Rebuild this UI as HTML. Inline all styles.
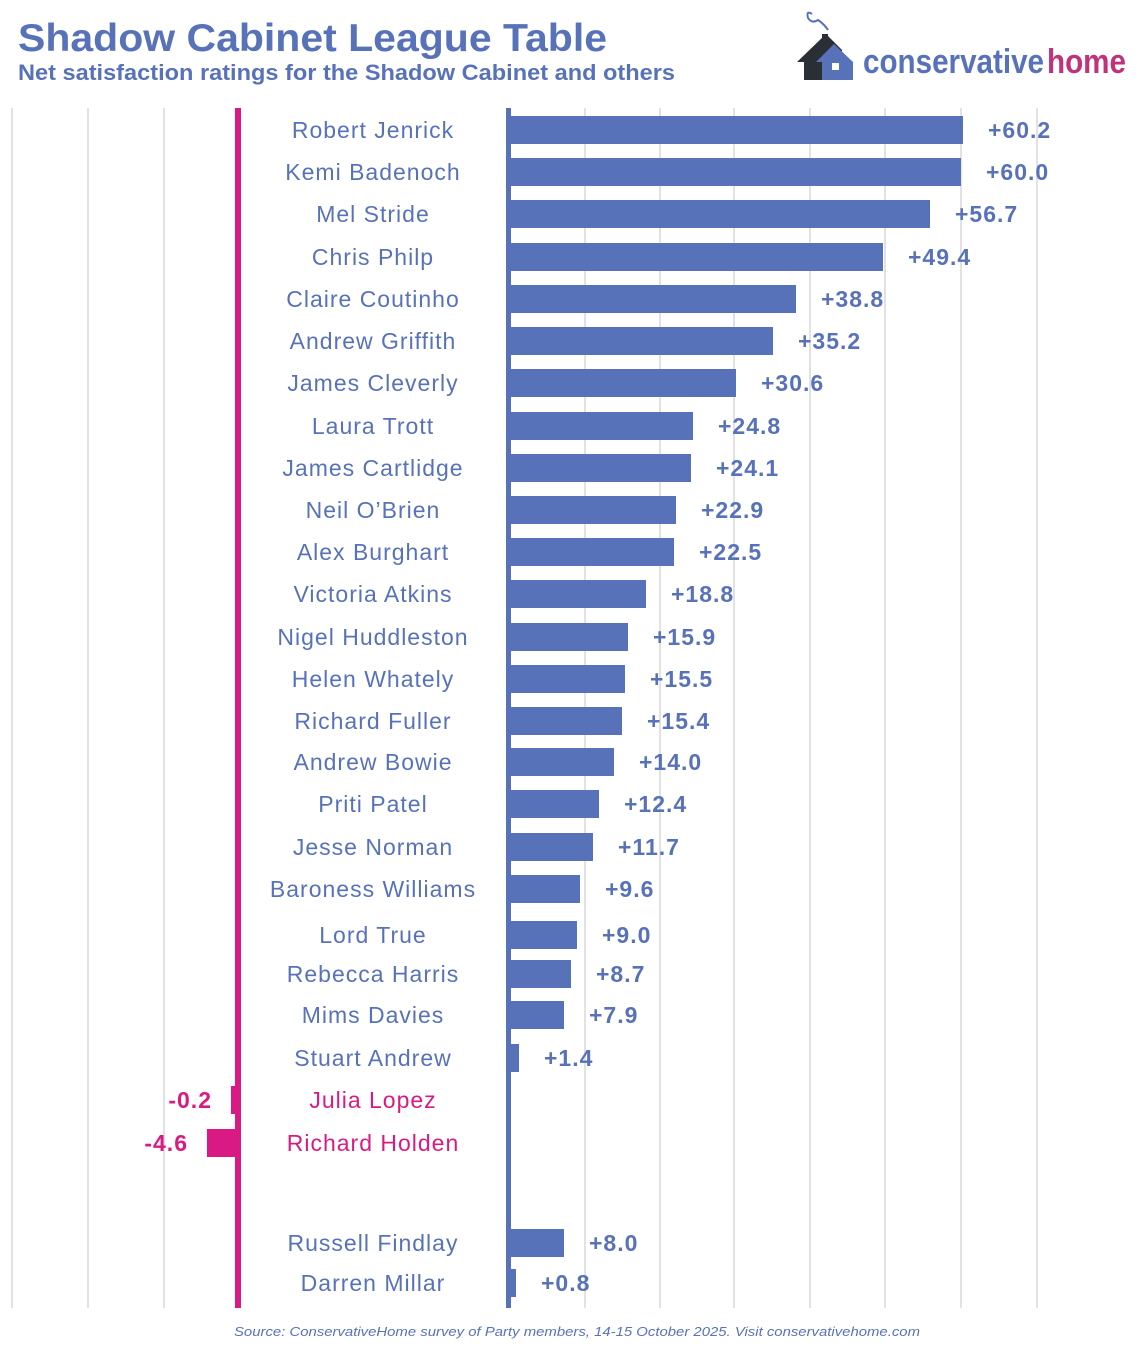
<!DOCTYPE html>
<html><head><meta charset="utf-8"><style>
body{margin:0;background:#fff}
svg text{font-family:"Liberation Sans",sans-serif}
</style></head><body>
<svg width="1139" height="1344" viewBox="0 0 1139 1344" xmlns="http://www.w3.org/2000/svg">
<rect width="1139" height="1344" fill="#fff"/>
<text x="18" y="51" font-size="39" font-weight="bold" fill="#5872BA" textLength="589" lengthAdjust="spacingAndGlyphs">Shadow Cabinet League Table</text>
<text x="18" y="80" font-size="22" font-weight="bold" fill="#5872BA" textLength="657" lengthAdjust="spacingAndGlyphs">Net satisfaction ratings for the Shadow Cabinet and others</text>
<g>
<path d="M812 14 q-6 -4 -4 4 q4 6 10 2 q6 4 10 10" fill="none" stroke="#5872BA" stroke-width="2"/>
<polygon points="797,62 826,34 842,50 842,80 804,80 804,62" fill="#2a2f36"/>
<rect x="822" y="34" width="6" height="8" fill="#2a2f36"/>
<polygon points="816,62 834,44 853,62 853,80 822,80 822,62" fill="#5872BA"/>
<rect x="832" y="63" width="7" height="7" fill="#fff"/>
<text x="863" y="73" font-size="34" font-weight="bold" fill="#5872BA" textLength="181" lengthAdjust="spacingAndGlyphs">conservative</text>
<text x="1047" y="73" font-size="34" font-weight="bold" fill="#C0327A" textLength="79" lengthAdjust="spacingAndGlyphs">home</text>
</g>
<g stroke="#e2e2e2" stroke-width="2">
<line x1="12" y1="108" x2="12" y2="1308"/><line x1="88" y1="108" x2="88" y2="1308"/><line x1="164" y1="108" x2="164" y2="1308"/>
<line x1="585" y1="108" x2="585" y2="1308"/><line x1="660" y1="108" x2="660" y2="1308"/><line x1="734" y1="108" x2="734" y2="1308"/>
<line x1="810" y1="108" x2="810" y2="1308"/><line x1="885" y1="108" x2="885" y2="1308"/><line x1="961" y1="108" x2="961" y2="1308"/><line x1="1037" y1="108" x2="1037" y2="1308"/>
</g>
<rect x="235" y="108" width="6" height="1200" fill="#DA1A84"/>
<rect x="506" y="108" width="5" height="1200" fill="#5872BA"/>
<text x="234" y="1336" font-size="13" font-style="italic" fill="#5872BA" textLength="686" lengthAdjust="spacingAndGlyphs">Source: ConservativeHome survey of Party members, 14-15 October 2025. Visit conservativehome.com</text>
</svg>
<script>
var d=[["Robert Jenrick","+60.2",130,963],["Kemi Badenoch","+60.0",172,961],["Mel Stride","+56.7",214,930],["Chris Philp","+49.4",257,883],["Claire Coutinho","+38.8",299,796],["Andrew Griffith","+35.2",341,773],["James Cleverly","+30.6",383,736],["Laura Trott","+24.8",426,693],["James Cartlidge","+24.1",468,691],["Neil O’Brien","+22.9",510,676],["Alex Burghart","+22.5",552,674],["Victoria Atkins","+18.8",594,646],["Nigel Huddleston","+15.9",637,628],["Helen Whately","+15.5",679,625],["Richard Fuller","+15.4",721,622],["Andrew Bowie","+14.0",762,614],["Priti Patel","+12.4",804,599],["Jesse Norman","+11.7",847,593],["Baroness Williams","+9.6",889,580],["Lord True","+9.0",935,577],["Rebecca Harris","+8.7",974,571],["Mims Davies","+7.9",1015,564],["Stuart Andrew","+1.4",1058,519],["Russell Findlay","+8.0",1243,564],["Darren Millar","+0.8",1283,516]];
var ns="http://www.w3.org/2000/svg",svg=document.querySelector("svg");
function el(t,a,txt){var e=document.createElementNS(ns,t);for(var k in a)e.setAttribute(k,a[k]);if(txt)e.textContent=txt;svg.appendChild(e);return e;}
d.forEach(function(r){var y=r[2],e=r[3];
el("rect",{x:506,y:y-14,width:e-506,height:28,fill:"#5872BA"});
el("text",{x:e+25,y:y+8,"font-size":23,"font-weight":"bold",fill:"#5872BA","letter-spacing":"1"},r[1]);
el("text",{x:373,y:y+8,"font-size":23,"text-anchor":"middle",fill:"#5872BA","letter-spacing":"1"},r[0]);
});
[["Julia Lopez","-0.2",1100,231],["Richard Holden","-4.6",1143,207]].forEach(function(r){var y=r[2];
el("rect",{x:r[3],y:y-14,width:238-r[3],height:28,fill:"#DA1A84"});
el("text",{x:r[3]-19,y:y+8,"font-size":23,"font-weight":"bold",fill:"#DA1A84","text-anchor":"end","letter-spacing":"1"},r[1]);
el("text",{x:373,y:y+8,"font-size":23,"text-anchor":"middle",fill:"#DA1A84","letter-spacing":"1"},r[0]);
});
</script>
</body></html>
